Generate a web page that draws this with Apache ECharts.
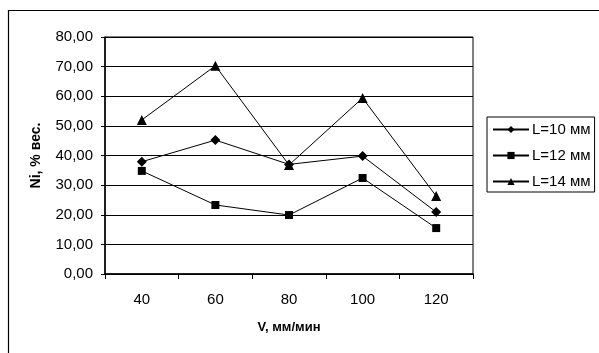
<!DOCTYPE html>
<html>
<head>
<meta charset="utf-8">
<script src="https://cdn.jsdelivr.net/npm/echarts@6/dist/echarts.min.js"></script>
<style>
  html, body { margin: 0; padding: 0; background: #fff; }
  #chart { width: 599px; height: 353px; }
</style>
</head>
<body>
<div id="chart"></div>
<script>
// Скорость подачи V, мм/мин
const categories = ['40', '60', '80', '100', '120'];
// Содержание Ni, % вес., при разной длине L
const seriesL10 = [37.9, 45.2, 37.0, 39.8, 20.9];
const seriesL12 = [34.8, 23.3, 19.9, 32.4, 15.5];
const seriesL14 = [52.0, 70.3, 36.8, 59.4, 26.3];
const seriesNames = ['L=10 мм', 'L=12 мм', 'L=14 мм'];

const font = 'Arial, "Liberation Sans", sans-serif';

function lineSeries(name, data, symbol, size) {
  return {
    name: name,
    type: 'line',
    data: data,
    symbol: symbol,
    symbolSize: size,
    lineStyle: { color: '#000', width: 1 },
    itemStyle: { color: '#000' },
    emphasis: { disabled: true },
    animation: false
  };
}

const chart = echarts.init(document.getElementById('chart'), null, { renderer: 'canvas' });
chart.setOption({
  animation: false,
  backgroundColor: '#fff',
  graphic: [{
    type: 'rect',
    shape: { x: 8.5, y: 10.5, width: 640, height: 400 },
    style: { fill: 'none', stroke: '#000', lineWidth: 1.2 },
    silent: true
  }],
  grid: {
    left: 105, top: 37, width: 368, height: 237,
    show: true, borderColor: '#000', borderWidth: 1,
    containLabel: false
  },
  legend: {
    orient: 'vertical',
    left: 487, top: 117,
    width: 110,
    padding: [5, 4, 3, 5],
    itemGap: 11,
    itemWidth: 36,
    itemHeight: 9,
    borderColor: '#000',
    borderWidth: 1,
    textStyle: { fontFamily: font, fontSize: 15, color: '#000', padding: [0, 0, 0, -2] },
    data: seriesNames
  },
  xAxis: {
    type: 'category',
    data: categories,
    boundaryGap: true,
    name: 'V, мм/мин',
    nameLocation: 'middle',
    nameGap: 47,
    nameTextStyle: { fontFamily: font, fontSize: 13, fontWeight: 'bold', color: '#000' },
    axisLine: { show: true, lineStyle: { color: '#000', width: 1.5 } },
    axisTick: { show: true, length: 5, lineStyle: { color: '#000' } },
    axisLabel: { fontFamily: font, fontSize: 15, color: '#000', margin: 18 },
    splitLine: { show: false }
  },
  yAxis: {
    type: 'value',
    min: 0, max: 80, interval: 10,
    name: 'Ni, % вес.',
    nameLocation: 'middle',
    nameGap: 62,
    nameTextStyle: { fontFamily: font, fontSize: 14, fontWeight: 'bold', color: '#000' },
    axisLine: { show: true, lineStyle: { color: '#000', width: 1.5 } },
    axisTick: { show: true, length: 4, lineStyle: { color: '#000' } },
    axisLabel: {
      fontFamily: font, fontSize: 15, color: '#000', margin: 12,
      formatter: v => v.toFixed(2).replace('.', ',')
    },
    splitLine: { show: true, lineStyle: { color: '#000', width: 1 } }
  },
  series: [
    lineSeries(seriesNames[0], seriesL10, 'diamond', 10),
    lineSeries(seriesNames[1], seriesL12, 'rect', 8),
    lineSeries(seriesNames[2], seriesL14, 'triangle', 10)
  ]
});
</script>
</body>
</html>
